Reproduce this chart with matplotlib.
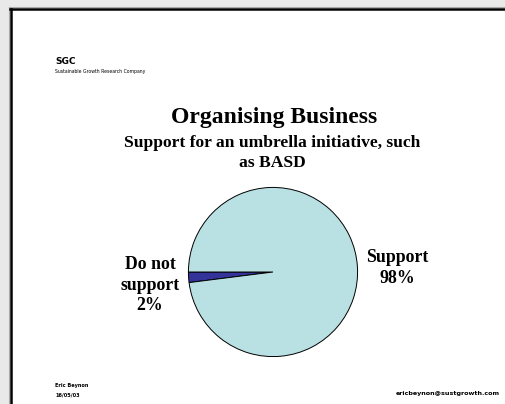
import matplotlib.pyplot as plt
from matplotlib.patches import Rectangle
from matplotlib.lines import Line2D

# slide data
labels = ["Do not\nsupport\n2%", "Support\n98%"]
shares = [2, 98]
colors = ["#333399", "#b9e1e3"]

W, H = 505, 404
fig = plt.figure(figsize=(W / 100, H / 100), dpi=100, facecolor="#e9e9e9")


def fx(px):
    return px / W


def fy(py):
    return 1 - py / H


# white slide with black left/top border
fig.add_artist(Rectangle((fx(10), 0), 1, fy(8), transform=fig.transFigure,
                         facecolor="white", edgecolor="none", zorder=-5))
fig.add_artist(Line2D([fx(9), fx(9)], [0, fy(7)], color="#aaaaaa", lw=0.8, zorder=-4))
fig.add_artist(Line2D([fx(9), 1], [fy(7), fy(7)], color="#aaaaaa", lw=0.8, zorder=-4))
fig.add_artist(Line2D([fx(11), fx(11)], [0, fy(9)], color="black", lw=1.8, zorder=-4))
fig.add_artist(Line2D([fx(10.3), 1], [fy(9), fy(9)], color="black", lw=1.8, zorder=-4))

# header
fig.text(fx(55), fy(62), "SGC", fontsize=6.5, fontweight="bold",
         family="DejaVu Sans", va="center", ha="left")
fig.text(fx(55), fy(72), "Sustainable Growth Research Company", fontsize=3.3,
         family="DejaVu Sans", va="center", ha="left")

# titles
fig.text(fx(274), fy(118), "Organising Business", fontsize=17, fontweight="bold",
         family="Liberation Serif", ha="center", va="center")
fig.text(fx(272), fy(153), "Support for an umbrella initiative, such\nas BASD",
         fontsize=12.6, fontweight="bold", family="Liberation Serif",
         ha="center", va="center", linespacing=1.35)

# pie
ax = fig.add_axes([fx(188), fy(357), fx(170), 170 / H])
ax.pie(shares, colors=colors, startangle=180, counterclock=True,
       wedgeprops=dict(edgecolor="black", linewidth=0.7))
ax.set_xlim(-1.005, 1.005)
ax.set_ylim(-1.005, 1.005)
ax.set_aspect("equal")

fig.text(fx(150), fy(285), labels[0], fontsize=12.8, fontweight="bold",
         family="Liberation Serif", ha="center", va="center", linespacing=1.3)
fig.text(fx(397), fy(268), labels[1], fontsize=12.8, fontweight="bold",
         family="Liberation Serif", ha="center", va="center", linespacing=1.3)

# footer
fig.text(fx(55), fy(386), "Eric Beynon", fontsize=3.6, fontweight="bold",
         family="DejaVu Sans", va="center", ha="left")
fig.text(fx(55), fy(395), "16/05/03", fontsize=3.6, fontweight="bold",
         family="DejaVu Sans", va="center", ha="left")
fig.text(fx(500), fy(393), "ericbeynon@sustgrowth.com", fontsize=4.6,
         fontweight="bold", family="DejaVu Sans", va="center", ha="right")

fig.savefig("out.png", dpi=100, facecolor=fig.get_facecolor())
